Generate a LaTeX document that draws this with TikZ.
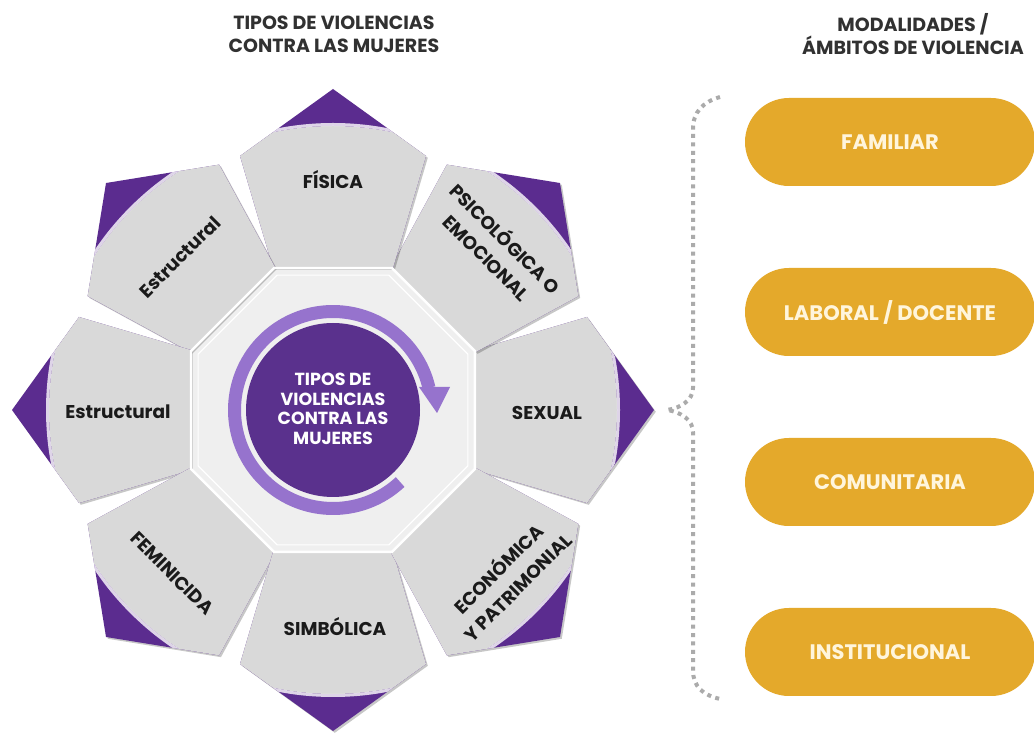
\documentclass[tikz,border=0pt]{standalone}
\usepackage{fontspec}
\setmainfont{Poppins}
\definecolor{tip}{HTML}{5B2C8F}
\definecolor{core}{HTML}{5A318D}
\definecolor{ringc}{HTML}{9673CD}
\definecolor{petalgray}{HTML}{D9D9D9}
\definecolor{octgray}{HTML}{EFEFEF}
\definecolor{pillc}{HTML}{E4A92B}
\definecolor{pilltext}{HTML}{FFF5DC}
\definecolor{ink}{HTML}{1A1A1A}
\definecolor{dotc}{HTML}{ABABAB}
\tikzset{
  petallabel/.style={font=\fontsize{18.5}{26.5}\selectfont\bfseries, text=ink, align=center, inner sep=0pt},
  heading/.style={font=\fontsize{19}{23}\selectfont\bfseries, text=ink!90, align=center, inner sep=0pt},
  pill/.style={fill=pillc, rounded corners=44pt, minimum width=290pt, minimum height=88pt, inner sep=0pt,
    font=\fontsize{21}{24}\selectfont\bfseries, text=pilltext},
  coretext/.style={font=\fontsize{17.5}{19.5}\selectfont\bfseries, text=white, align=center, inner sep=0pt},
  bracedots/.style={draw=dotc, line width=4pt, dash pattern=on 4pt off 4.4pt}
}
\newcommand\drawpetal[1]{%
  \begin{scope}[shift={(334.8,322.2)}, rotate=#1]
    \fill[black, opacity=.22] (142pt,-60pt) -- (254pt,-93pt) -- (321pt,0pt) -- (254pt,93pt) -- (142pt,60pt) -- cycle;
  \end{scope}
  \begin{scope}[shift={(333,324)}, rotate=#1]
    \fill[tip] (142pt,-60pt) -- (254pt,-93pt) -- (321pt,0pt) -- (254pt,93pt) -- (142pt,60pt) -- cycle;
    \begin{scope}
      \clip (142pt,-60pt) -- (254pt,-93pt) -- (321pt,0pt) -- (254pt,93pt) -- (142pt,60pt) -- cycle;
      \fill[petalgray] (0,0) circle (284pt);
      \draw[white, opacity=.8, line width=3pt] (0,0) circle (285.5pt);
    \end{scope}
  \end{scope}}
\begin{document}
\begin{tikzpicture}[x=1pt, y=1pt]
\useasboundingbox (0,0) rectangle (1034,734);
\fill[white] (0,0) rectangle (1034,734);

% headings
\node[heading] (h1) at (334,700) {TIPOS DE VIOLENCIAS\\CONTRA LAS MUJERES};
\node[heading] (h2) at (913,700) {MODALIDADES /\\ÁMBITOS DE VIOLENCIA};

% octagon
\begin{scope}[shift={(333,324)}]
  \fill[octgray] (22.5:153.7pt) -- (67.5:153.7pt) -- (112.5:153.7pt) -- (157.5:153.7pt) -- (202.5:153.7pt) -- (247.5:153.7pt) -- (292.5:153.7pt) -- (337.5:153.7pt) -- cycle;
\end{scope}

% petals
\drawpetal{0}
\drawpetal{45}
\drawpetal{90}
\drawpetal{135}
\drawpetal{180}
\drawpetal{225}
\drawpetal{270}
\drawpetal{315}

\begin{scope}[shift={(333,324)}]
  \draw[white, line width=2.5pt, line join=miter] (22.5:153.7pt) -- (67.5:153.7pt) -- (112.5:153.7pt) -- (157.5:153.7pt) -- (202.5:153.7pt) -- (247.5:153.7pt) -- (292.5:153.7pt) -- (337.5:153.7pt) -- cycle;
  \draw[white, line width=1.2pt] (22.5:146pt) -- (67.5:146pt) -- (112.5:146pt) -- (157.5:146pt) -- (202.5:146pt) -- (247.5:146pt) -- (292.5:146pt) -- (337.5:146pt) -- cycle;
  % ring arrow
  \draw[ringc, line width=13pt] (-47:98.5pt) arc[start angle=-47, end angle=-347, radius=98.5pt];
  \fill[ringc] (86pt,23pt) -- (117pt,23pt) -- (104pt,-3pt) -- cycle;
  % core
  \fill[core] (0,0) circle (87pt);
\end{scope}
\node[coretext] (core) at (333,325) {TIPOS DE\\VIOLENCIAS\\CONTRA LAS\\MUJERES};

% petal labels
\node[petallabel] (fisica) at (333,554) {FÍSICA};
\node[petallabel, rotate=-45] (psico) at (497,487) {PSICOLÓGICA O\\EMOCIONAL};
\node[petallabel] (sexual) at (547,321) {SEXUAL};
\node[petallabel, rotate=45] (econ) at (507,157) {ECONÓMICA\\Y PATRIMONIAL};
\node[petallabel] (simb) at (335,107) {SIMBÓLICA};
\node[petallabel, rotate=-45] (femin) at (172,161) {FEMINICIDA};
\node[petallabel] (estr1) at (118,322) {Estructural};
\node[petallabel, rotate=45] (estr2) at (180,477) {Estructural};

% brace
\coordinate (bt) at (720,637);
\coordinate (bm) at (667,324);
\coordinate (bb) at (720,35);
\draw[bracedots] (bt) .. controls (703,632) and (693,622) .. (693,605) -- (693,346)
  .. controls (693,334) and (681,326) .. (bm) .. controls (681,322) and (693,314) .. (693,302)
  -- (693,64) .. controls (693,47) and (703,39) .. (bb);

% pills
\node[pill] (fam) at (890,592) {FAMILIAR};
\node[pill] (lab) at (890,422) {LABORAL / DOCENTE};
\node[pill] (com) at (890,252) {COMUNITARIA};
\node[pill] (ins) at (890,82) {INSTITUCIONAL};
\end{tikzpicture}
\end{document}
